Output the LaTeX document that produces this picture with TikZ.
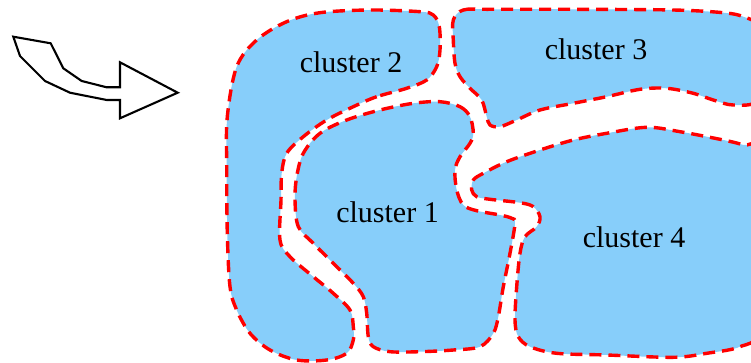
\documentclass[tikz,border=0pt]{standalone}
\usepackage{fontspec}
\setmainfont{Liberation Serif}
\begin{document}
\begin{tikzpicture}[x=1pt,y=-1pt,
  region/.style={fill={rgb,255:red,135;green,206;blue,250}, draw=red, line width=3.4pt, dash pattern=on 12pt off 7pt},
  lbl/.style={font=\fontsize{30}{36}\selectfont, anchor=base, inner sep=0pt},
  bigarrow/.style={draw=black, line width=2.1pt, fill=white, line join=miter}]
\useasboundingbox (0,0) rectangle (751,363);
\clip (0,0) rectangle (751,363);
% cluster 2
\draw[region] plot[smooth cycle, tension=0.55] coordinates {
 (406.7,88.3) (376.7,96.7) (353.3,106.7) (326.7,120) (303.3,136.7) (286.7,153.3)
 (281.7,173.3) (281,200) (280,240) (290,256.7) (313.3,276.7) (333.3,293.3)
 (350,310) (353.3,326.7) (353.3,340) (346.7,353.3) (326.7,360) (296.7,360)
 (270,350) (250,333.3) (236.7,310) (230,286.7) (227.3,233.3) (226.7,166.7)
 (227.3,116.7) (236.7,66.7) (256.7,40) (286.7,21.7) (320,12.7) (370,10)
 (420,11.7) (433.3,15) (439.3,26.7) (440,50) (436.7,66.7) (426.7,80)};
% cluster 1
\draw[region] plot[smooth cycle, tension=0.55] coordinates {
 (440,101.7) (460,106.7) (470,116.7) (473.3,133.3) (470,143.3) (460,156.7)
 (455,170) (456.7,190) (463.3,205) (476.7,210.7) (500,215) (511.7,218.3)
 (515,223.3) (510,253.3) (503.3,286.7) (498.3,316.7) (493.3,333.3) (480,346.7)
 (453.3,350) (420,351.7) (390,351.7) (373.3,346.7) (368.3,336.7) (366.7,313.3)
 (363.3,296.7) (353.3,283.3) (333.3,263.3) (313.3,243.3) (298.3,226.7) (295,200)
 (296.7,176.7) (303.3,153.3) (320,133.3) (346.7,120) (380,110) (413.3,103.3)};
% cluster 3
\draw[region] plot[smooth cycle, tension=0.55] coordinates {
 (453.3,20) (463.3,10) (490,9.3) (573.3,9.3) (673.3,10) (723.3,12.7)
 (743.3,16.7) (758,26) (765,60) (758,100) (733.3,105) (713.3,100)
 (693.3,93.3) (666.7,88.3) (640,89.3) (606.7,96.7) (573.3,103.3) (540,110)
 (516.7,120) (500,126.7) (490,125) (486.7,116.7) (481.7,100) (470,88.3)
 (460,76.7) (455,63.3) (453.3,40)};
% cluster 4
\draw[region] plot[smooth cycle, tension=0.55] coordinates {
 (471.7,190) (473.3,180) (483.3,173.3) (506.7,161.7) (540,150) (573.3,140)
 (606.7,133.3) (646.7,127.3) (680,131.7) (723.3,140) (743.3,145) (758,152)
 (765,240) (758,330) (740,346.7) (706.7,353.3) (673.3,357.3) (606.7,355)
 (556.7,353.3) (530,346.7) (518.3,336.7) (515,320) (516.7,286.7) (520,253.3)
 (525,236.7) (536.7,226.7) (540,216.7) (533.3,206.7) (520,202.7) (490,199.3)
 (476.7,196.7)};
\node[lbl] (c2) at (351,72.7) {cluster 2};
\node[lbl] (c1) at (387.5,222.7) {cluster 1};
\node[lbl] (c3) at (596,59.3) {cluster 3};
\node[lbl] (c4) at (634,247.7) {cluster 4};
% arrow
\draw[bigarrow] (13.3,36.7) -- (50.7,43.3) -- (63.3,68.3) -- (81.7,81) -- (106.7,87.3)
  -- (120,87.3) -- (120,62.3) -- (177.7,92.7) -- (120,118.3) -- (120,100)
  -- (106.7,100) -- (70,92.7) -- (45,81) -- (20,56) -- cycle;
\end{tikzpicture}
\end{document}
